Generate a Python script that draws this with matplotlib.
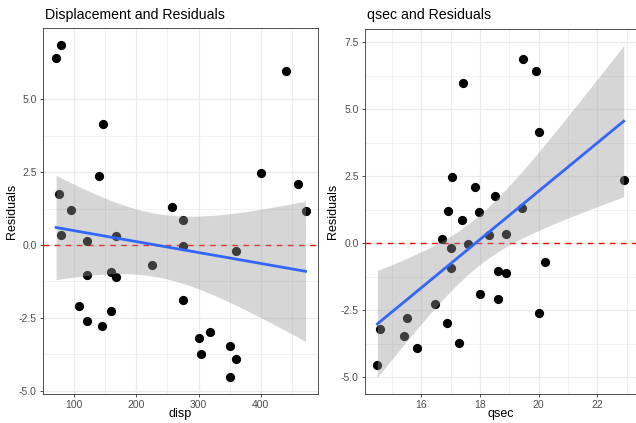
import matplotlib
matplotlib.use('Agg')
import matplotlib.pyplot as plt
import numpy as np

plt.rcParams['font.family'] = ['Liberation Sans', 'DejaVu Sans']

# mtcars columns and residuals of mpg ~ wt
disp = np.array([160, 160, 108, 258, 360, 225, 360, 146.7, 140.8, 167.6, 167.6,
                 275.8, 275.8, 275.8, 472, 460, 440, 78.7, 75.7, 71.1, 120.1,
                 318, 304, 350, 400, 79, 120.3, 95.1, 351, 145, 301, 121])
qsec = np.array([16.46, 17.02, 18.61, 19.44, 17.02, 20.22, 15.84, 20.00, 22.90,
                 18.30, 18.90, 17.40, 17.60, 18.00, 17.98, 17.82, 17.42, 19.47,
                 18.52, 19.90, 20.01, 16.87, 17.30, 15.41, 17.05, 18.90, 16.70,
                 16.90, 14.50, 15.50, 14.60, 18.60])
resid = np.array([-2.2826, -0.9198, -2.0860, 1.2973, -0.2001, -0.6933, -3.9054,
                  4.1637, 2.3499, 0.2999, -1.1001, 0.8669, -0.0502, -1.8828,
                  1.1733, 2.1033, 5.9811, 6.8727, 1.7462, 6.4220, -2.6110,
                  -2.9726, -3.7268, -3.4628, 2.4643, 0.3564, 0.1520, 1.2010,
                  -4.5431, -2.7809, -3.2054, -1.0274])

T975 = 2.0423  # t quantile, df = 30

W, H = 636, 423
fig = plt.figure(figsize=(W / 100, H / 100), dpi=100)


def lm_band(x, y):
    n = len(x)
    b, a = np.polyfit(x, y, 1)
    xs = np.linspace(x.min(), x.max(), 80)
    fit = a + b * xs
    res = y - (a + b * x)
    s = np.sqrt((res ** 2).sum() / (n - 2))
    se = s * np.sqrt(1 / n + (xs - x.mean()) ** 2 / ((x - x.mean()) ** 2).sum())
    return xs, fit, fit - T975 * se, fit + T975 * se


def panel(rect, x, y, title, xlabel, xticks, yticks, ylabel_x):
    w, h = rect[2] - rect[0], rect[3] - rect[1]
    ax = fig.add_axes([rect[0] / W, 1 - rect[3] / H, w / W, h / H])
    xs, fit, lo, hi = lm_band(x, y)
    ax.axhline(0, color='red', lw=1, ls=(0, (4, 4)), zorder=2)
    ax.scatter(x, y, s=44, color='black', linewidths=0, zorder=3)
    ax.fill_between(xs, lo, hi, color='#999999', alpha=0.4, linewidth=0, zorder=4)
    ax.plot(xs, fit, color='#3366FF', lw=2, zorder=5)

    xr = x.max() - x.min()
    ax.set_xlim(x.min() - 0.05 * xr, x.max() + 0.05 * xr)
    ymin = min(y.min(), lo.min())
    ymax = max(y.max(), hi.max())
    yr = ymax - ymin
    ax.set_ylim(ymin - 0.05 * yr, ymax + 0.05 * yr)

    ax.set_xticks(xticks)
    ax.set_yticks(yticks)
    ax.set_yticklabels(['%.1f' % v for v in yticks])
    step = xticks[1] - xticks[0]
    xm = [v - step / 2 for v in xticks] + [xticks[-1] + step / 2]
    ym = [(yticks[i] + yticks[i + 1]) / 2 for i in range(len(yticks) - 1)]
    ax.set_xticks(xm, minor=True)
    ax.set_yticks(ym, minor=True)
    ax.grid(which='major', color='#EBEBEB', lw=0.9)
    ax.grid(which='minor', color='#EBEBEB', lw=0.5)
    ax.set_axisbelow(True)
    ax.tick_params(which='major', length=2.5, width=0.6, color='#333333',
                   labelsize=7.5, labelcolor='#4D4D4D', pad=2)
    ax.tick_params(which='minor', length=0)
    for sp in ax.spines.values():
        sp.set_color('#333333')
        sp.set_linewidth(0.6)
    ax.set_xlabel(xlabel, fontsize=9)
    ax.xaxis.set_label_coords(0.5, -(414 - rect[3]) / h)
    ax.xaxis.label.set_va('center')
    ax.set_ylabel('Residuals', fontsize=9)
    ax.yaxis.set_label_coords(-(rect[0] - ylabel_x) / w, 0.5)
    ax.yaxis.label.set_va('center')
    fig.text((rect[0] + 2) / W, 1 - 15 / H, title, fontsize=10.2,
             ha='left', va='center')
    return ax


panel((43, 28, 318, 394), disp, resid, 'Displacement and Residuals', 'disp',
      [100, 200, 300, 400], [-5.0, -2.5, 0.0, 2.5, 5.0], 12)
panel((365, 29, 636, 394), qsec, resid, 'qsec and Residuals', 'qsec',
      [16, 18, 20, 22], [-5.0, -2.5, 0.0, 2.5, 5.0, 7.5], 333)

fig.savefig('out.png', dpi=100)
